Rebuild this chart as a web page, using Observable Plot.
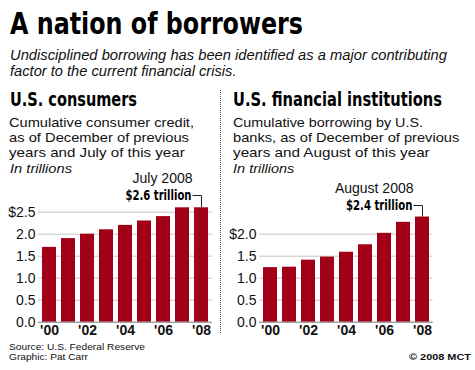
<!DOCTYPE html>
<html><head><meta charset="utf-8">
<script src="https://cdn.jsdelivr.net/npm/d3@7"></script>
<script src="https://cdn.jsdelivr.net/npm/@observablehq/plot@0.6"></script>
<style>
html,body{margin:0;padding:0;background:#fff;}
#root{position:relative;width:475px;height:370px;overflow:hidden;background:#fff;color:#111;font-family:"Liberation Sans",Arial,sans-serif;}
.t{position:absolute;white-space:nowrap;line-height:0.9;transform-origin:0 0;}
.plot{position:absolute;top:160px;}
.plot svg{overflow:visible;}
.plot [aria-label^="x-axis"] text{font-weight:bold;}
.sep{position:absolute;left:220px;top:90px;height:243px;border-left:1px dotted #555;}
</style></head><body><div id="root"></div>
<script>
// ---- data ----
const years = ["'00","'01","'02","'03","'04","'05","'06","'07","'08"];
const xTickLabels = ["'00","'02","'04","'06","'08"];
const consumerCredit = [1.7, 1.9, 2.0, 2.1, 2.2, 2.3, 2.4, 2.6, 2.6];
const bankBorrowing = [1.24, 1.25, 1.41, 1.48, 1.59, 1.76, 2.02, 2.27, 2.39];
const leftTicks = [0, 0.5, 1.0, 1.5, 2.0, 2.5];
const rightTicks = [0, 0.5, 1.0, 1.5, 2.0];
const yMax = 2.5;

// ---- texts ----
const titleText = "A nation of borrowers";
const subtitleLines = ["Undisciplined borrowing has been identified as a major contributing", "factor to the current financial crisis."];
const leftHeader = "U.S. consumers";
const leftDesc = ["Cumulative consumer credit,", "as of December of previous", "years and July of this year"];
const rightHeader = "U.S. financial institutions";
const rightDesc = ["Cumulative borrowing by U.S.", "banks, as of December of previous", "years and August of this year"];
const unitText = "In trillions";
const leftNote = ["July 2008", "$2.6 trillion"];
const rightNote = ["August 2008", "$2.4 trillion"];
const sourceLines = ["Source: U.S. Federal Reserve", "Graphic: Pat Carr"];
const creditText = "© 2008 MCT";

const SANS = '"Liberation Sans", Arial, sans-serif';
const NARROW = '"Liberation Sans Narrow", "Arial Narrow", "DejaVu Sans Condensed", sans-serif';
const BAR = "#a20016";

const root = document.getElementById("root");
function addText(str, {x, baseline, size, weight = "normal", style = "normal", family = SANS, width, anchor = "start", color = "#111"}) {
  const el = document.createElement("div");
  el.className = "t";
  el.textContent = str;
  Object.assign(el.style, {fontSize: size + "px", fontWeight: weight, fontStyle: style, fontFamily: family, color, top: (baseline - 0.7965 * size) + "px", left: "0px"});
  root.appendChild(el);
  const w = el.getBoundingClientRect().width;
  const k = width ? width / w : 1;
  el.style.left = (anchor === "end" ? x - (width || w) : x) + "px";
  if (width) el.style.transform = `scaleX(${k})`;
}

addText(titleText, {x: 10, baseline: 34.3, size: 31, weight: "bold", family: NARROW, width: 293, color: "#000"});
addText(subtitleLines[0], {x: 9.5, baseline: 60.5, size: 14, style: "italic", width: 437});
addText(subtitleLines[1], {x: 9.5, baseline: 76.5, size: 14, style: "italic", width: 226.5});

addText(leftHeader, {x: 10, baseline: 106.5, size: 19, weight: "bold", family: NARROW, width: 127, color: "#000"});
addText(rightHeader, {x: 232.7, baseline: 106.5, size: 19, weight: "bold", family: NARROW, width: 209, color: "#000"});
const leftW = [185, 180, 175.7], rightW = [190, 226.3, 196.7];
const descBase = [127.3, 142.6, 157.9];
leftDesc.forEach((s, i) => addText(s, {x: 8.5, baseline: descBase[i], size: 13.5, width: leftW[i]}));
rightDesc.forEach((s, i) => addText(s, {x: 232.7, baseline: descBase[i], size: 13.5, width: rightW[i]}));
addText(unitText, {x: 9.5, baseline: 173.3, size: 13.5, style: "italic", width: 62});
addText(unitText, {x: 232.7, baseline: 173.3, size: 13.5, style: "italic", width: 61.3});

addText(sourceLines[0], {x: 9.3, baseline: 350.3, size: 9.5, width: 136});
addText(sourceLines[1], {x: 9.3, baseline: 361, size: 9.5, width: 79});
addText(creditText, {x: 470.7, baseline: 361, size: 9.5, weight: "bold", anchor: "end", width: 62});

const sep = document.createElement("div");
sep.className = "sep";
root.appendChild(sep);

function leaderMark(datum) {
  return (index, scales) => {
    const bw = typeof scales.x.bandwidth === "function" ? scales.x.bandwidth() : 0;
    const x = Math.round(scales.x(datum.year) + bw / 2) + 0.5;
    const y = scales.y(datum.value);
    const p = document.createElementNS("http://www.w3.org/2000/svg", "path");
    p.setAttribute("d", `M${x - 9},${Math.round(y - 12) + 0.5}H${x}V${y}`);
    p.setAttribute("fill", "none");
    p.setAttribute("stroke", "#222");
    p.setAttribute("stroke-width", "1");
    return p;
  };
}

function panel({values, ticks, note, noteWidth, left, width, marginLeft, marginRight}) {
  const data = years.map((year, i) => ({year, value: values[i]}));
  const last = data[data.length - 1];
  const topTick = ticks[ticks.length - 1];
  const chart = Plot.plot({
    width, height: 185, marginLeft, marginRight, marginTop: 51.7, marginBottom: 23.3,
    style: {fontFamily: SANS, fontSize: "14px", color: "#111", background: "transparent", overflow: "visible"},
    x: {domain: years, paddingInner: 0.25, paddingOuter: 0.1, label: null, tickSize: 0, tickPadding: 3,
        tickFormat: d => xTickLabels.includes(d) ? d : ""},
    y: {domain: [0, yMax], ticks, label: null, tickSize: 0, tickPadding: 3,
        tickFormat: d => (d === topTick ? "$" : "") + d.toFixed(1)},
    marks: [
      Plot.ruleY(ticks.filter(t => t > 0), {stroke: "#c6c6c6"}),
      Plot.barY(data, {x: "year", y: "value", fill: BAR}),
      Plot.ruleY([0], {stroke: "#777"}),
      Plot.text([last], {x: "year", y: "value", text: () => note[0], dx: -9, dy: -29, textAnchor: "end", fontSize: 14, fill: "#111"}),
      Plot.text([last], {x: "year", y: "value", text: () => note[1], dx: -10, dy: -12, textAnchor: "end", fontSize: 14, fontWeight: "bold", fontFamily: NARROW, fill: "#000"}),
      leaderMark(last)
    ]
  });
  chart.querySelectorAll("text").forEach(t => {
    if (t.textContent === note[1]) {
      t.setAttribute("textLength", noteWidth);
      t.setAttribute("lengthAdjust", "spacingAndGlyphs");
    }
  });
  const wrap = document.createElement("div");
  wrap.className = "plot";
  wrap.style.left = left + "px";
  wrap.appendChild(chart);
  root.appendChild(wrap);
}

panel({values: consumerCredit, ticks: leftTicks, note: leftNote, noteWidth: 66, left: 0, width: 222, marginLeft: 38, marginRight: 10});
panel({values: bankBorrowing, ticks: rightTicks, note: rightNote, noteWidth: 66.6, left: 222, width: 253, marginLeft: 37, marginRight: 42.3});
</script>
</body></html>
